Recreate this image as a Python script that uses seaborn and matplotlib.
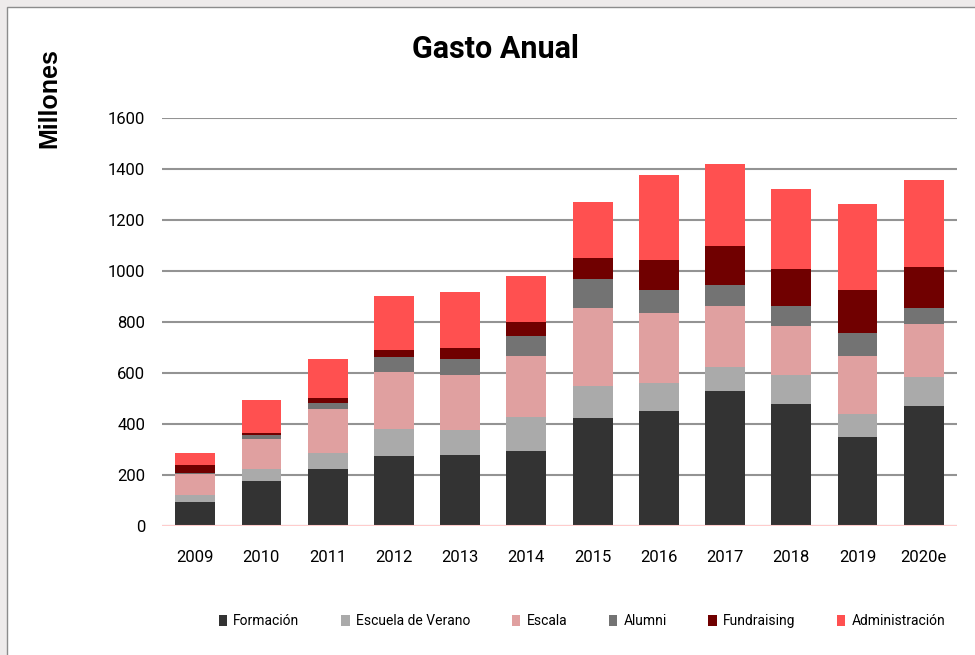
import numpy as np
import pandas as pd
import matplotlib.pyplot as plt
import seaborn as sns
from matplotlib.patches import Patch, Rectangle

years = ["2009", "2010", "2011", "2012", "2013", "2014",
         "2015", "2016", "2017", "2018", "2019", "2020e"]

formacion = [93, 175, 225, 273, 280, 295, 425, 452, 528, 479, 348, 472]
escuela_verano = [27, 48, 61, 108, 96, 131, 125, 110, 97, 112, 90, 112]
escala = [84, 119, 173, 224, 216, 242, 305, 272, 237, 194, 230, 209]
alumni = [2, 15, 22, 56, 61, 75, 111, 90, 84, 77, 90, 62]
fundraising = [33, 6, 21, 29, 43, 58, 84, 119, 153, 145, 166, 159]
administracion = [49, 131, 151, 213, 221, 179, 221, 332, 318, 313, 339, 340]

series = ["Formación", "Escuela de Verano", "Escala", "Alumni",
          "Fundraising", "Administración"]
colors = ["#333333", "#AAAAAA", "#E0A0A0", "#737373", "#700000", "#FF5050"]

df = pd.DataFrame({
    "year": years,
    "Formación": formacion,
    "Escuela de Verano": escuela_verano,
    "Escala": escala,
    "Alumni": alumni,
    "Fundraising": fundraising,
    "Administración": administracion,
})
cum = df[series].cumsum(axis=1)

sns.set_style("white")
narrow = ["Liberation Sans Narrow", "Roboto", "DejaVu Sans"]
plt.rcParams["font.family"] = narrow
plt.rcParams["text.color"] = "black"
plt.rcParams["xtick.color"] = "black"
plt.rcParams["ytick.color"] = "black"

fig = plt.figure(figsize=(9.75, 6.55), dpi=100)
fig.patch.set_facecolor("#EEEBEB")
fig.patches.append(Rectangle((7 / 975, -0.01), 1.0, 1 - 7 / 655 + 0.01,
                             transform=fig.transFigure, facecolor="white",
                             edgecolor="#8C8C8C", linewidth=1.0, zorder=-5))

ax = fig.add_axes([162 / 975, 1 - 526 / 655, (957 - 162) / 975, (526 - 117.7) / 655])
ax.set_facecolor("none")

# stacked bars: draw cumulative totals from the top layer down
for name, col in reversed(list(zip(series, colors))):
    sns.barplot(x=df["year"], y=cum[name], color=col, width=0.6,
                saturation=1, edgecolor="none", ax=ax, zorder=3)

ax.set_ylim(0, 1600)
ax.set_yticks(np.arange(0, 1601, 200))
ax.yaxis.grid(True, color="#939393", linewidth=1.5, zorder=0)
ax.set_axisbelow(True)
ax.axhline(0, color="#FFCCCC", linewidth=1.5, zorder=4)
for s in ax.spines.values():
    s.set_visible(False)
ax.set_xlabel("")
ax.set_ylabel("")
ax.tick_params(axis="y", length=0, pad=12, labelsize=12)
ax.tick_params(axis="x", length=0, pad=17, labelsize=12)

fig.text(495 / 975, 1 - 49 / 655, "Gasto Anual", ha="center", va="center",
         fontsize=22, fontweight="bold", family=narrow)
fig.text(49 / 975, 1 - 98 / 655, "Millones", ha="center", va="center",
         rotation=90, fontsize=18, fontweight="bold",
         family=["Liberation Sans", "DejaVu Sans"])

handles = [Patch(facecolor=c, edgecolor="none") for c in colors]
fig.legend(handles, series, loc="center", bbox_to_anchor=(582 / 975, 1 - 621 / 655),
           ncol=6, frameon=False, fontsize=10, handlelength=0.6,
           handleheight=0.85, handletextpad=0.45, columnspacing=3.0)

fig.savefig("out.png", dpi=100, facecolor=fig.get_facecolor())
